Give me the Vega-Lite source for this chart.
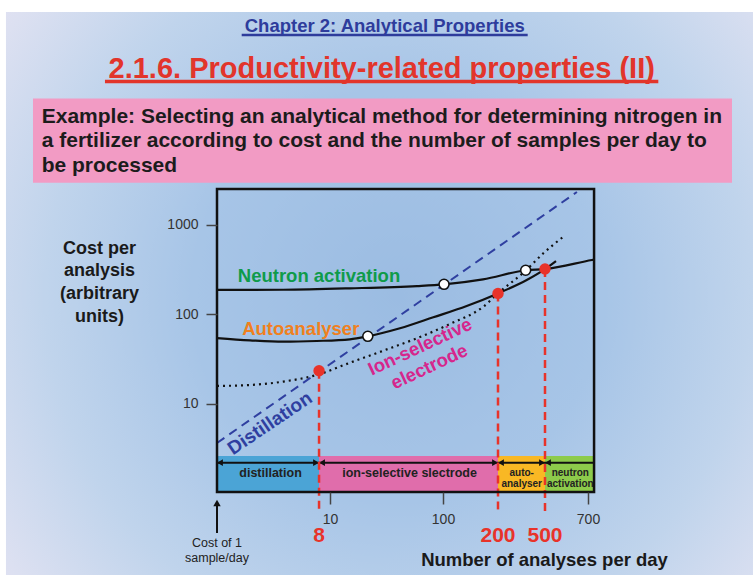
{
  "$schema": "https://vega.github.io/schema/vega-lite/v6.json",
  "width": 377,
  "height": 303,
  "autosize": {"type": "none"},
  "padding": {"left": 217, "top": 189, "right": 159, "bottom": 83},
  "background": "#ffffff",
  "config": {"view": {"stroke": null}, "font": "Liberation Sans"},
  "datasets": {
    "slide": [
      {"part": "background", "analyses": 0.01357, "analyses_end": 2689, "cost": 0.108, "cost_end": 239900},
      {"part": "example box", "analyses": 0.02353, "analyses_end": 2160, "cost": 2969, "cost_end": 25910},
      {"part": "frame", "analyses": 1, "analyses_end": 734, "cost": 1.0393, "cost_end": 2524.6}
    ],
    "underlines": [
      {"part": "chapter", "analyses": 1.654, "analyses_end": 356.8, "cost": 132700},
      {"part": "section", "analyses": 0.102, "analyses_end": 1213.4, "cost": 40120}
    ],
    "headings": [
      {"part": "chapter", "label": "Chapter 2: Analytical Properties", "analyses": 30.49, "cost": 144500},
      {"part": "section", "label": "2.1.6. Productivity-related properties (II)", "analyses": 28.67, "cost": 44240},
      {"part": "example", "label": "Example: Selecting an analytical method for determining nitrogen in\na fertilizer according to cost and the number of samples per day to\nbe processed", "analyses": 0.0281, "cost": 13686}
    ],
    "bands": [
      {"method": "distillation", "analyses": 1, "analyses_end": 8, "cost": 1.04, "cost_end": 2.624},
      {"method": "ion-selective slectrode", "analyses": 8, "analyses_end": 200, "cost": 1.04, "cost_end": 2.624},
      {"method": "autoanalyser", "analyses": 200, "analyses_end": 500, "cost": 1.04, "cost_end": 2.624},
      {"method": "neutron activation", "analyses": 500, "analyses_end": 730, "cost": 1.04, "cost_end": 2.624}
    ],
    "arrows": [
      {"analyses": 1, "analyses_end": 8, "cost": 2.208},
      {"analyses": 8, "analyses_end": 200, "cost": 2.208},
      {"analyses": 200, "analyses_end": 500, "cost": 2.208},
      {"analyses": 500, "analyses_end": 734, "cost": 2.208}
    ],
    "heads": [
      {"analyses": 1, "cost": 2.208, "dir": "left"},
      {"analyses": 8, "cost": 2.208, "dir": "right"},
      {"analyses": 8, "cost": 2.208, "dir": "left"},
      {"analyses": 200, "cost": 2.208, "dir": "right"},
      {"analyses": 200, "cost": 2.208, "dir": "left"},
      {"analyses": 500, "cost": 2.208, "dir": "right"},
      {"analyses": 500, "cost": 2.208, "dir": "left"}
    ],
    "bandLabels": [
      {"lines": 1, "label": "distillation", "analyses": 2.976, "cost": 1.695},
      {"lines": 1, "label": "ion-selective slectrode", "analyses": 50.6, "cost": 1.695},
      {"lines": 2, "label": "auto-\nanalyser", "analyses": 317.6, "cost": 1.695},
      {"lines": 2, "label": "neutron\nactivation", "analyses": 609.5, "cost": 1.695}
    ],
    "curves": [
      {"method": "Neutron activation", "analyses": 1, "cost": 188},
      {"method": "Neutron activation", "analyses": 3.84, "cost": 189},
      {"method": "Neutron activation", "analyses": 15, "cost": 196},
      {"method": "Neutron activation", "analyses": 58.9, "cost": 208},
      {"method": "Neutron activation", "analyses": 101.3, "cost": 217.5},
      {"method": "Neutron activation", "analyses": 165.6, "cost": 247},
      {"method": "Neutron activation", "analyses": 345, "cost": 312},
      {"method": "Neutron activation", "analyses": 500, "cost": 322},
      {"method": "Neutron activation", "analyses": 722, "cost": 406},
      {"method": "Neutron activation", "analyses": 734, "cost": 410},
      {"method": "Autoanalyser", "analyses": 1, "cost": 54.6},
      {"method": "Autoanalyser", "analyses": 1.96, "cost": 51.5},
      {"method": "Autoanalyser", "analyses": 3.86, "cost": 49.7},
      {"method": "Autoanalyser", "analyses": 7.63, "cost": 50.6},
      {"method": "Autoanalyser", "analyses": 15, "cost": 52.8},
      {"method": "Autoanalyser", "analyses": 21.6, "cost": 57.1},
      {"method": "Autoanalyser", "analyses": 41.6, "cost": 70.1},
      {"method": "Autoanalyser", "analyses": 82.1, "cost": 93},
      {"method": "Autoanalyser", "analyses": 134.8, "cost": 124.5},
      {"method": "Autoanalyser", "analyses": 200, "cost": 172},
      {"method": "Autoanalyser", "analyses": 350, "cost": 243},
      {"method": "Autoanalyser", "analyses": 500, "cost": 322},
      {"method": "Autoanalyser", "analyses": 545, "cost": 396},
      {"method": "Ion-selective electrode", "analyses": 1, "cost": 15.9},
      {"method": "Ion-selective electrode", "analyses": 1.96, "cost": 16.3},
      {"method": "Ion-selective electrode", "analyses": 3.86, "cost": 17.8},
      {"method": "Ion-selective electrode", "analyses": 7.63, "cost": 21.1},
      {"method": "Ion-selective electrode", "analyses": 15, "cost": 28.9},
      {"method": "Ion-selective electrode", "analyses": 29.6, "cost": 39.4},
      {"method": "Ion-selective electrode", "analyses": 58.5, "cost": 54.2},
      {"method": "Ion-selective electrode", "analyses": 109.2, "cost": 78.3},
      {"method": "Ion-selective electrode", "analyses": 166.2, "cost": 122.3},
      {"method": "Ion-selective electrode", "analyses": 200, "cost": 172},
      {"method": "Ion-selective electrode", "analyses": 345, "cost": 312},
      {"method": "Ion-selective electrode", "analyses": 484, "cost": 483},
      {"method": "Ion-selective electrode", "analyses": 577, "cost": 740},
      {"method": "Distillation", "analyses": 1, "cost": 3.67},
      {"method": "Distillation", "analyses": 642, "cost": 2337}
    ],
    "markers": [
      {"kind": "switch", "analyses": 8, "cost": 23.5},
      {"kind": "switch", "analyses": 200, "cost": 172},
      {"kind": "switch", "analyses": 500, "cost": 322},
      {"kind": "crossing", "analyses": 21.6, "cost": 57.1},
      {"kind": "crossing", "analyses": 101.3, "cost": 217.5},
      {"kind": "crossing", "analyses": 343, "cost": 312}
    ],
    "switchLines": [
      {"analyses": 8, "cost": 23.5, "cost_end": 0.6},
      {"analyses": 200, "cost": 172, "cost_end": 0.62},
      {"analyses": 500, "cost": 322, "cost_end": 0.62}
    ],
    "numbers": [
      {"label": "8", "analyses": 8, "cost": 0.2871},
      {"label": "200", "analyses": 200, "cost": 0.2871},
      {"label": "500", "analyses": 500, "cost": 0.2871}
    ],
    "curveLabels": [
      {"method": "Neutron activation", "label": "Neutron activation", "analyses": 7.99, "cost": 230.7},
      {"method": "Autoanalyser", "label": "Autoanalyser", "analyses": 5.51, "cost": 59.0},
      {"method": "Ion-selective electrode", "label": "Ion-selective\nelectrode", "analyses": 62.6, "cost": 43.7},
      {"method": "Distillation", "label": "Distillation", "analyses": 2.945, "cost": 6.09}
    ],
    "costOfOne": [
      {"part": "shaft", "analyses": 1, "cost": 0.362, "cost_end": 0.7437},
      {"part": "head", "analyses": 1, "cost": 0.7831, "cost_end": 0.7831},
      {"part": "text", "label": "Cost of 1\nsample/day", "analyses": 1, "cost": 0.2777, "cost_end": 0.2777}
    ]
  },
  "encoding": {
    "x": {
      "field": "analyses",
      "type": "quantitative",
      "scale": {"type": "log", "domain": [1, 100, 200, 500, 700], "range": [0, 226, 281, 328, 371], "nice": false, "zero": false},
      "axis": {
        "values": [10, 100, 700],
        "labelExpr": "format(datum.value, 'd')",
        "title": "Number of analyses per day",
        "titleFontSize": 18.5,
        "titleFontWeight": "bold",
        "titleColor": "#1a1a1a",
        "titleX": 327,
        "titleY": 73,
        "titleAlign": "center",
        "titleBaseline": "alphabetic",
        "domain": false,
        "grid": false,
        "tickSize": 12,
        "tickWidth": 1.5,
        "tickColor": "#444444",
        "labelFontSize": 14,
        "labelColor": "#333333",
        "labelPadding": 19,
        "labelBaseline": "alphabetic",
        "labelFlush": false,
        "labelOverlap": false,
        "zindex": 1
      }
    },
    "y": {
      "field": "cost",
      "type": "quantitative",
      "scale": {"type": "log", "domain": [1.0393, 2524.6], "nice": false, "zero": false},
      "axis": {
        "values": [10, 100, 1000],
        "labelExpr": "format(datum.value, 'd')",
        "title": ["Cost per", "analysis", "(arbitrary", "units)"],
        "titleAngle": 0,
        "titleX": -118,
        "titleY": 64,
        "titleAlign": "center",
        "titleBaseline": "alphabetic",
        "titleFontSize": 18,
        "titleFontWeight": "bold",
        "titleLineHeight": 22.8,
        "titleColor": "#1a1a1a",
        "domain": false,
        "grid": false,
        "tickSize": 11,
        "tickWidth": 1.5,
        "tickColor": "#444444",
        "labelFontSize": 14,
        "labelColor": "#333333",
        "labelPadding": 8,
        "labelFlush": false,
        "labelOverlap": false,
        "zindex": 1
      }
    }
  },
  "layer": [
    {
      "data": {"name": "slide"},
      "transform": [{"filter": "datum.part === 'background'"}],
      "mark": {"type": "rect", "strokeWidth": 0, "fill": {"gradient": "radial", "x1": 0.52, "y1": 0.5, "r1": 0, "x2": 0.52, "y2": 0.5, "r2": 0.78, "stops": [{"offset": 0, "color": "#9bbce2"}, {"offset": 0.35, "color": "#a7c5e7"}, {"offset": 0.6, "color": "#c0d4ec"}, {"offset": 0.8, "color": "#dce0f1"}, {"offset": 1, "color": "#f3e5f5"}]}},
      "encoding": {"x2": {"field": "analyses_end"}, "y2": {"field": "cost_end"}}
    },
    {
      "data": {"name": "slide"},
      "transform": [{"filter": "datum.part === 'example box'"}],
      "mark": {"type": "rect", "fill": "#f29bc4", "strokeWidth": 0},
      "encoding": {"x2": {"field": "analyses_end"}, "y2": {"field": "cost_end"}}
    },
    {
      "data": {"name": "underlines"},
      "transform": [{"filter": "datum.part === 'chapter'"}],
      "mark": {"type": "rule", "color": "#2e3c9c", "strokeWidth": 2.5},
      "encoding": {"x2": {"field": "analyses_end"}}
    },
    {
      "data": {"name": "underlines"},
      "transform": [{"filter": "datum.part === 'section'"}],
      "mark": {"type": "rule", "color": "#e2352b", "strokeWidth": 3.5},
      "encoding": {"x2": {"field": "analyses_end"}}
    },
    {
      "data": {"name": "headings"},
      "transform": [{"filter": "datum.part === 'chapter'"}],
      "mark": {"type": "text", "fontSize": 18.5, "fontWeight": "bold", "color": "#2e3c9c", "align": "center", "baseline": "alphabetic"},
      "encoding": {"text": {"field": "label"}}
    },
    {
      "data": {"name": "headings"},
      "transform": [{"filter": "datum.part === 'section'"}],
      "mark": {"type": "text", "fontSize": 29, "fontWeight": "bold", "color": "#e2352b", "align": "center", "baseline": "alphabetic"},
      "encoding": {"text": {"field": "label"}}
    },
    {
      "data": {"name": "headings"},
      "transform": [{"filter": "datum.part === 'example'"}],
      "mark": {"type": "text", "fontSize": 21, "fontWeight": "bold", "color": "#1c1c1c", "align": "left", "baseline": "alphabetic", "lineBreak": "\n", "lineHeight": 24.2},
      "encoding": {"text": {"field": "label"}}
    },
    {
      "data": {"name": "bands"},
      "mark": {"type": "rect", "strokeWidth": 0},
      "encoding": {
        "x2": {"field": "analyses_end"},
        "y2": {"field": "cost_end"},
        "color": {"field": "method", "type": "nominal", "legend": null, "scale": {"domain": ["distillation", "ion-selective slectrode", "autoanalyser", "neutron activation"], "range": ["#4ba4d6", "#e06dab", "#f9b824", "#8dcb4b"]}}
      }
    },
    {
      "data": {"name": "arrows"},
      "mark": {"type": "rule", "color": "#111111", "strokeWidth": 2},
      "encoding": {"x2": {"field": "analyses_end"}}
    },
    {
      "data": {"name": "heads"},
      "transform": [{"filter": "datum.dir === 'left'"}],
      "mark": {"type": "point", "shape": "triangle-left", "filled": true, "color": "#111111", "size": 45, "opacity": 1, "xOffset": 3}
    },
    {
      "data": {"name": "heads"},
      "transform": [{"filter": "datum.dir === 'right'"}],
      "mark": {"type": "point", "shape": "triangle-right", "filled": true, "color": "#111111", "size": 45, "opacity": 1, "xOffset": -3}
    },
    {
      "data": {"name": "bandLabels"},
      "transform": [{"filter": "datum.lines === 1"}],
      "mark": {"type": "text", "fontSize": 12.5, "fontWeight": "bold", "color": "#222222", "align": "center", "baseline": "middle"},
      "encoding": {"text": {"field": "label"}}
    },
    {
      "data": {"name": "bandLabels"},
      "transform": [{"filter": "datum.lines === 2"}],
      "mark": {"type": "text", "fontSize": 10, "fontWeight": "bold", "color": "#222222", "align": "center", "baseline": "middle", "lineBreak": "\n", "lineHeight": 11, "clip": true},
      "encoding": {"text": {"field": "label"}}
    },
    {
      "data": {"name": "curves"},
      "transform": [{"filter": "datum.method === 'Distillation'"}],
      "mark": {"type": "line", "color": "#2f3fa0", "strokeWidth": 2, "strokeDash": [9, 6]}
    },
    {
      "data": {"name": "curves"},
      "transform": [{"filter": "datum.method === 'Neutron activation' || datum.method === 'Autoanalyser'"}],
      "mark": {"type": "line", "color": "#111111", "strokeWidth": 2.2, "interpolate": "monotone"},
      "encoding": {"detail": {"field": "method"}}
    },
    {
      "data": {"name": "curves"},
      "transform": [{"filter": "datum.method === 'Ion-selective electrode'"}],
      "mark": {"type": "line", "color": "#111111", "strokeWidth": 2.2, "strokeDash": [2, 4], "interpolate": "monotone"}
    },
    {
      "data": {"name": "switchLines"},
      "mark": {"type": "rule", "color": "#e8332a", "strokeWidth": 2.5, "strokeDash": [8, 5]},
      "encoding": {"y2": {"field": "cost_end"}}
    },
    {
      "data": {"name": "slide"},
      "transform": [{"filter": "datum.part === 'frame'"}],
      "mark": {"type": "rect", "fillOpacity": 0, "stroke": "#111111", "strokeWidth": 2.5},
      "encoding": {"x2": {"field": "analyses_end"}, "y2": {"field": "cost_end"}}
    },
    {
      "data": {"name": "markers"},
      "transform": [{"filter": "datum.kind === 'switch'"}],
      "mark": {"type": "point", "filled": true, "color": "#e8332a", "size": 130, "opacity": 1}
    },
    {
      "data": {"name": "markers"},
      "transform": [{"filter": "datum.kind === 'crossing'"}],
      "mark": {"type": "point", "filled": true, "fill": "#ffffff", "stroke": "#111111", "strokeWidth": 1.6, "size": 100, "opacity": 1}
    },
    {
      "data": {"name": "curveLabels"},
      "transform": [{"filter": "datum.method === 'Neutron activation'"}],
      "mark": {"type": "text", "fontSize": 18.5, "fontWeight": "bold", "color": "#0f9b4a", "align": "center", "baseline": "alphabetic"},
      "encoding": {"text": {"field": "label"}}
    },
    {
      "data": {"name": "curveLabels"},
      "transform": [{"filter": "datum.method === 'Autoanalyser'"}],
      "mark": {"type": "text", "fontSize": 18.5, "fontWeight": "bold", "color": "#f0801e", "align": "center", "baseline": "alphabetic"},
      "encoding": {"text": {"field": "label"}}
    },
    {
      "data": {"name": "curveLabels"},
      "transform": [{"filter": "datum.method === 'Ion-selective electrode'"}],
      "mark": {"type": "text", "fontSize": 18.5, "fontWeight": "bold", "color": "#d6268c", "align": "center", "baseline": "middle", "angle": 335, "lineBreak": "\n", "lineHeight": 22},
      "encoding": {"text": {"field": "label"}}
    },
    {
      "data": {"name": "curveLabels"},
      "transform": [{"filter": "datum.method === 'Distillation'"}],
      "mark": {"type": "text", "fontSize": 19, "fontWeight": "bold", "color": "#2f3fa0", "align": "center", "baseline": "middle", "angle": 326},
      "encoding": {"text": {"field": "label"}}
    },
    {
      "data": {"name": "numbers"},
      "mark": {"type": "text", "fontSize": 21, "fontWeight": "bold", "color": "#e8332a", "align": "center", "baseline": "alphabetic"},
      "encoding": {"text": {"field": "label"}}
    },
    {
      "data": {"name": "costOfOne"},
      "transform": [{"filter": "datum.part === 'shaft'"}],
      "mark": {"type": "rule", "color": "#111111", "strokeWidth": 2},
      "encoding": {"y2": {"field": "cost_end"}}
    },
    {
      "data": {"name": "costOfOne"},
      "transform": [{"filter": "datum.part === 'head'"}],
      "mark": {"type": "point", "shape": "triangle-up", "filled": true, "color": "#111111", "size": 55, "opacity": 1}
    },
    {
      "data": {"name": "costOfOne"},
      "transform": [{"filter": "datum.part === 'text'"}],
      "mark": {"type": "text", "fontSize": 12.5, "color": "#222222", "align": "center", "baseline": "middle", "lineBreak": "\n", "lineHeight": 14.4},
      "encoding": {"text": {"field": "label"}}
    }
  ]
}
